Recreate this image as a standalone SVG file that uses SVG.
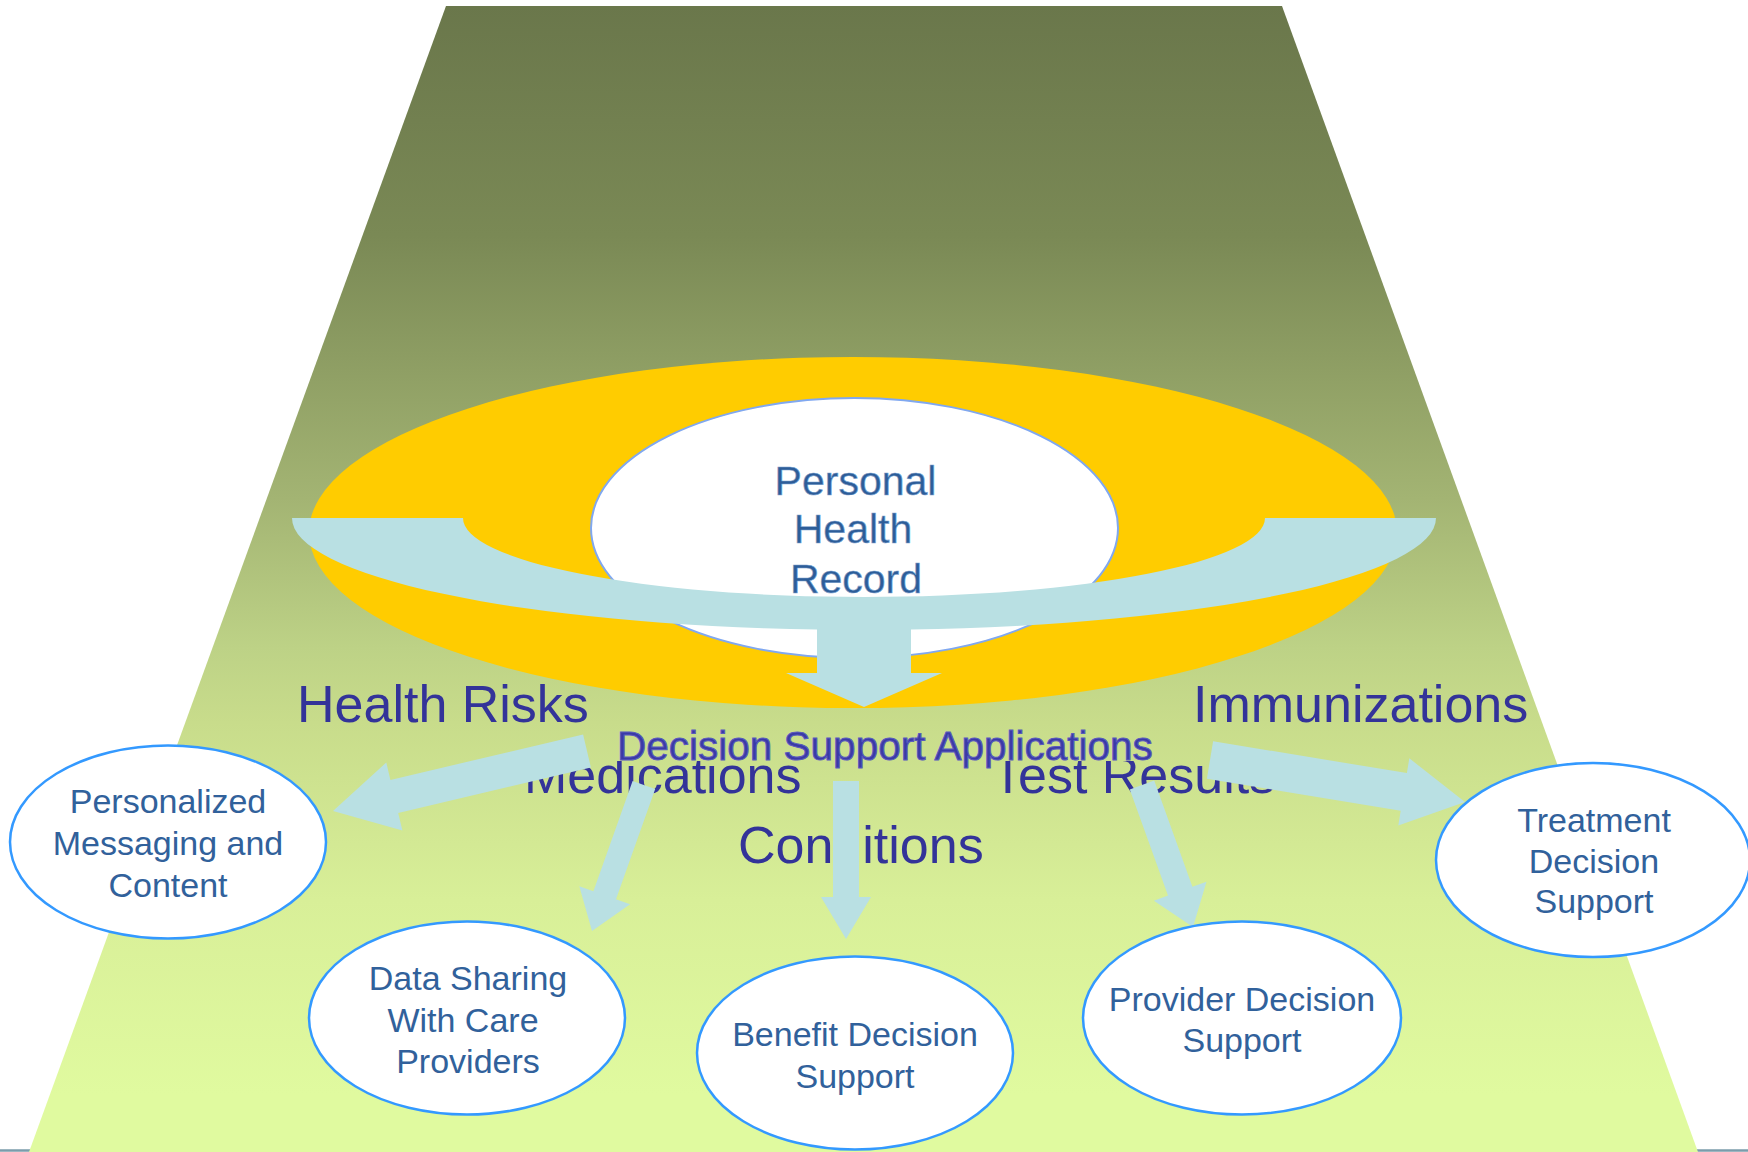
<svg xmlns="http://www.w3.org/2000/svg" width="1748" height="1152" viewBox="0 0 1748 1152">
  <defs>
    <linearGradient id="bg" gradientUnits="userSpaceOnUse" x1="0" y1="6" x2="0" y2="1152">
      <stop offset="0" stop-color="#6A774B"/>
      <stop offset="0.2" stop-color="#7A8955"/>
      <stop offset="0.43" stop-color="#A3B473"/>
      <stop offset="0.56" stop-color="#BDD286"/>
      <stop offset="0.625" stop-color="#C8DC8B"/>
      <stop offset="0.78" stop-color="#D8EF98"/>
      <stop offset="0.95" stop-color="#E0FA9F"/>
      <stop offset="1" stop-color="#E0FA9F"/>
    </linearGradient>
    <style>
      .arrow { fill: #B9E0E3; stroke: none; }
      .node { fill: #FFFFFF; stroke: #3399FF; stroke-width: 2.5; }
      .ntext { font-family: "Liberation Sans", Arial, sans-serif; font-size: 34px; fill: #31619B; text-anchor: middle; }
      .label { font-family: "Liberation Sans", Arial, sans-serif; font-size: 52px; fill: #333399; }
      .phr { font-family: "Liberation Sans", Arial, sans-serif; font-size: 41px; fill: #2D5D98; stroke: #7FA3CF; stroke-width: 0.6; text-anchor: middle; }
      .dsa { font-family: "Liberation Sans", Arial, sans-serif; font-size: 40.5px; fill: #3A3AA6; stroke: #5A5ABE; stroke-width: 1; }
    </style>
  </defs>

  <g id="background">
    <line x1="0" y1="1150.5" x2="1748" y2="1150.5" stroke="#7B9CAB" stroke-width="2.5"/>
    <polygon points="446,6 1282,6 1698,1152 29,1152" fill="url(#bg)"/>
  </g>

  <g id="phr">
    <ellipse cx="853" cy="532.5" rx="544" ry="175.5" fill="#FFCC00"/>
    <ellipse cx="854.5" cy="528" rx="263.5" ry="130" fill="#FFFFFF" stroke="#80A8F0" stroke-width="2"/>
    <text class="phr" x="855.5" y="495">Personal</text>
    <text class="phr" x="853" y="543">Health</text>
    <text class="phr" x="856" y="593">Record</text>
  </g>

  <g id="main-arrow">
    <path class="arrow" d="M 292,518 L 463,518 A 401,79 0 0 0 1265,518 L 1436,518 A 572,112 0 0 1 911,629.6 L 911,673 L 942,673 L 864,707 L 786,673 L 817,673 L 817,629.6 A 572,112 0 0 1 292,518 Z"/>
  </g>

  <g id="labels">
    <text class="label" x="297" y="722">Health Risks</text>
    <text class="label" x="1193" y="722">Immunizations</text>
    <text class="label" x="524" y="793">Medications</text>
    <text class="label" x="992" y="793">Test Results</text>
    <text class="label" x="738" y="863">Conditions</text>
  </g>

  <g id="decision-support-applications">
    <rect x="612" y="726" width="550" height="35" fill="url(#bg)"/>
    <text class="dsa" x="617" y="760">Decision Support Applications</text>
  </g>

  <g id="connectors">
    <polygon class="arrow" points="583.1,734.5 390.4,779.9 386.3,762.4 333,811 402.4,830.6 398.2,813 590.9,767.5"/>
    <polygon class="arrow" points="632.6,781 655.2,789 616,899.2 630.1,904.2 592,931 579.3,886.2 593.4,891.2"/>
    <polygon class="arrow" points="833,781 859,781 859,897 871,897 846,939 821,897 833,897"/>
    <polygon class="arrow" points="1129.8,789.4 1154.2,780.6 1192.4,886.8 1206.5,881.7 1193,927 1153.9,900.7 1168,895.6"/>
    <polygon class="arrow" points="1213.1,741.2 1406.9,773.1 1409.3,758.3 1465,802 1398.3,825.5 1400.7,810.7 1206.9,778.8"/>
  </g>

  <g id="node-personalized">
    <ellipse class="node" cx="168" cy="842" rx="158" ry="96.5"/>
    <text class="ntext" x="168" y="813">Personalized</text>
    <text class="ntext" x="168" y="855">Messaging and</text>
    <text class="ntext" x="168" y="897">Content</text>
  </g>

  <g id="node-data-sharing">
    <ellipse class="node" cx="467" cy="1018" rx="158" ry="96.5"/>
    <text class="ntext" x="468" y="990">Data Sharing</text>
    <text class="ntext" x="463" y="1032">With Care</text>
    <text class="ntext" x="468" y="1073">Providers</text>
  </g>

  <g id="node-benefit">
    <ellipse class="node" cx="855" cy="1053" rx="158" ry="96.5"/>
    <text class="ntext" x="855" y="1046">Benefit Decision</text>
    <text class="ntext" x="855" y="1088">Support</text>
  </g>

  <g id="node-provider">
    <ellipse class="node" cx="1242" cy="1018" rx="159" ry="96.5"/>
    <text class="ntext" x="1242" y="1011">Provider Decision</text>
    <text class="ntext" x="1242" y="1052">Support</text>
  </g>

  <g id="node-treatment">
    <ellipse class="node" cx="1593" cy="860" rx="157" ry="97"/>
    <text class="ntext" x="1594" y="832">Treatment</text>
    <text class="ntext" x="1594" y="873">Decision</text>
    <text class="ntext" x="1594" y="913">Support</text>
  </g>
</svg>
